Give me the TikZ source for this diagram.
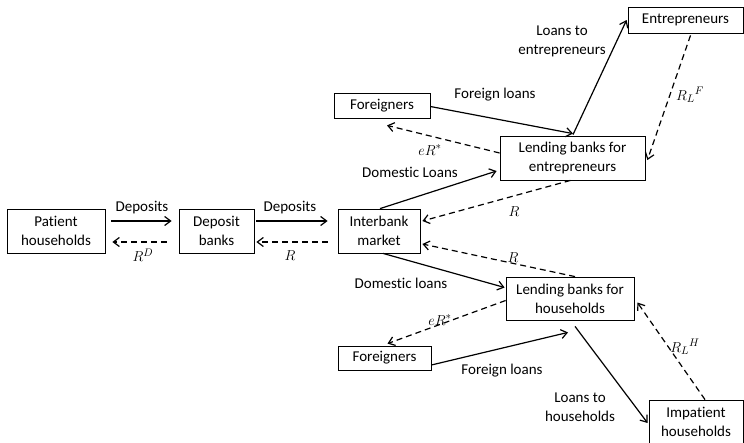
\documentclass[tikz,border=0pt]{standalone}
\usepackage{fontspec}
\setmainfont{Carlito}[Ligatures=CommonOff]
\usetikzlibrary{arrows.meta}
\begin{document}
\begin{tikzpicture}[x=1pt,y=-1pt,
  font=\fontsize{15}{19}\selectfont,
  box/.style={draw,line width=0.8pt,align=center,inner sep=0pt},
  flow/.style={line width=1.2pt,-{Straight Barb[length=6pt,width=9pt]}},
  ret/.style={flow,dashed,dash pattern=on 6pt off 4pt},
  lbl/.style={inner sep=0pt,align=center}]
\useasboundingbox (0,0) rectangle (744,442);
\node[box,minimum width=98pt,minimum height=44pt] (ph) at (56,231) {Patient\\households};
\node[box,minimum width=75pt,minimum height=44pt] (db) at (216.5,231) {Deposit\\banks};
\node[box,minimum width=82pt,minimum height=44pt] (ib) at (379,231) {Interbank\\market};
\node[box,minimum width=115pt,minimum height=26pt] (ent) at (685.5,20) {Entrepreneurs};
\node[box,minimum width=96pt,minimum height=25pt] (ft) at (382,105.5) {Foreigners};
\node[box,minimum width=145pt,minimum height=44pt] (lbe) at (572.5,158) {Lending banks for\\entrepreneurs};
\node[box,minimum width=128pt,minimum height=43pt] (lbh) at (570,298.5) {Lending banks for\\households};
\node[box,minimum width=93pt,minimum height=24pt] (fb) at (384.5,358) {Foreigners};
\node[box,minimum width=94pt,minimum height=44pt] (ih) at (696,422) {Impatient\\households};

% left chain
\draw[flow] ([xshift=6pt,yshift=10pt]ph.east) -- ([xshift=-7pt,yshift=10pt]db.west);
\draw[ret] ([xshift=-12pt,yshift=-11pt]db.west) -- ([xshift=7pt,yshift=-11pt]ph.east);
\draw[flow] ([xshift=2pt,yshift=10pt]db.east) -- ([xshift=-10pt,yshift=10pt]ib.west);
\draw[ret] ([xshift=-10pt,yshift=-11pt]ib.west) -- ([xshift=2pt,yshift=-11pt]db.east);
\node[lbl] (l1) at (142,208) {Deposits};
\node[lbl] (l2) at (143,255) {$R^{D}$};
\node[lbl] (l3) at (290,208) {Deposits};
\node[lbl] (l4) at (290,256) {$R$};

% upper part
\draw[flow] ([xshift=1pt]ib.north) -- ([xshift=-3pt,yshift=-13pt]lbe.west);
\draw[ret] ([xshift=-2pt]lbe.south) -- ([xshift=2pt,yshift=10pt]ib.east);
\draw[flow] ([yshift=-1pt]ft.east) -- ([xshift=0.5pt,yshift=2pt]lbe.north);
\draw[ret] ([yshift=5pt]lbe.west) -- ([xshift=5pt,yshift=-7pt]ft.south);
\draw[flow] ([xshift=0.5pt,yshift=1pt]lbe.north) -- ([xshift=-1pt]ent.west);
\draw[ret] ([xshift=5pt,yshift=-2pt]ent.south) -- ([xshift=2pt,yshift=-2pt]lbe.east);
\node[lbl] (l5) at (410,172) {Domestic Loans};
\node[lbl] (l6) at (514,212) {$R$};
\node[lbl] (l7) at (495,95) {Foreign loans};
\node[lbl] (l8) at (430,150) {$eR^{*}$};
\node[lbl] (l9) at (562,41) {Loans to\\entrepreneurs};
\node[lbl] (l10) at (690,95) {$R_{L}{}^{F}$};

% lower part
\draw[ret] ([xshift=5pt]lbh.north) -- ([xshift=2pt,yshift=-13pt]ib.east);
\draw[flow] ([xshift=4pt]ib.south) -- ([xshift=-1pt,yshift=11pt]lbh.west);
\draw[ret] ([yshift=-2pt]lbh.west) -- ([xshift=3pt,yshift=2pt]fb.north);
\draw[flow] ([yshift=-7pt]fb.east) -- ([xshift=-2pt,yshift=-12pt]lbh.south);
\draw[flow] ([xshift=5pt,yshift=-6pt]lbh.south) -- ([xshift=-1pt,yshift=-1pt]ih.west);
\draw[ret] ([xshift=9pt]ih.north) -- ([xshift=3pt,yshift=-4pt]lbh.east);
\node[lbl] (l11) at (513,258) {$R$};
\node[lbl] (l12) at (401,283) {Domestic loans};
\node[lbl] (l13) at (440,320) {$eR^{*}$};
\node[lbl] (l14) at (502,371) {Foreign loans};
\node[lbl] (l15) at (580,407) {Loans to\\households};
\node[lbl] (l16) at (685,347) {$R_{L}{}^{H}$};
\end{tikzpicture}
\end{document}
